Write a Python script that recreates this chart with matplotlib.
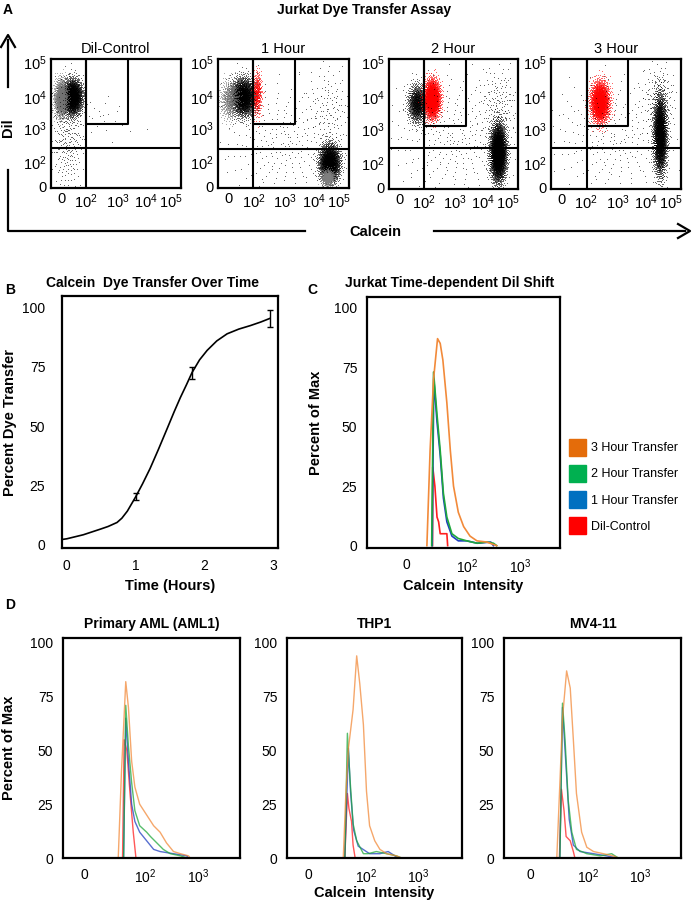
import numpy as np
import matplotlib
matplotlib.use("Agg")
import matplotlib.pyplot as plt
from matplotlib.lines import Line2D
from matplotlib.patches import Patch

plt.rcParams["font.family"] = ["Liberation Sans", "DejaVu Sans"]
plt.rcParams["mathtext.fontset"] = "custom"
plt.rcParams["mathtext.rm"] = "Liberation Sans"
plt.rcParams["mathtext.it"] = "Liberation Sans:italic"
plt.rcParams["mathtext.bf"] = "Liberation Sans:bold"

W, H = 695, 905

# ---------------- data ----------------
# A: flow dot plots, populations as (x, y, sx, sy, n, colour), axis units = decades on display scale
dot_titles = ["Dil-Control", "1 Hour", "2 Hour", "3 Hour"]
dot_pops = [
    [(0.65, 2.8, 0.15, 0.26, 2600, "k"), (0.30, 2.75, 0.10, 0.28, 1400, "0.45"),
     (0.50, 1.6, 0.25, 0.9, 300, "k"), (1.6, 2.2, 0.5, 0.5, 25, "k")],
    [(0.76, 2.8, 0.18, 0.28, 2600, "k"), (0.35, 2.7, 0.15, 0.3, 600, "0.45"),
     (1.19, 2.9, 0.07, 0.33, 450, "r"), (3.40, 0.75, 0.15, 0.28, 2600, "k"),
     (3.35, 0.30, 0.10, 0.12, 600, "0.5"), (3.4, 2.4, 0.35, 0.7, 130, "k"),
     (2.0, 1.4, 1.0, 1.0, 280, "k")],
    [(0.87, 2.6, 0.14, 0.28, 1200, "k"), (1.33, 2.75, 0.12, 0.28, 2600, "r"),
     (3.38, 1.10, 0.12, 0.42, 4000, "k"), (3.4, 2.6, 0.3, 0.6, 150, "k"),
     (2.0, 1.6, 1.1, 1.0, 350, "k")],
    [(1.50, 2.65, 0.14, 0.30, 2600, "r"), (3.35, 1.65, 0.10, 0.58, 3200, "k"),
     (3.3, 2.8, 0.25, 0.5, 150, "k"), (2.0, 1.6, 1.1, 1.0, 300, "k")],
]
gate_x = [1.08, 1.07, 1.09, 1.11]
gate_right = [2.37, 2.35, 2.39, 2.37]
gate_bottom = [1.98, 1.98, 1.94, 1.94]
quad_y = [1.24, 1.21, 1.26, 1.26]
dot_ticks = [0.32, 1.08, 2.05, 2.92, 3.68]
dot_yticks = [0.05, 0.8, 1.85, 2.82, 3.9]
dot_ticklabels = ["0", r"$10^2$", r"$10^3$", r"$10^4$", r"$10^5$"]

# B: dye transfer over time
time_h = [-0.07, 0.0, 0.24, 0.49, 0.6, 0.73, 0.8, 0.88, 1.0, 1.1, 1.21, 1.33, 1.46, 1.56,
          1.65, 1.74, 1.82, 1.93, 2.04, 2.18, 2.33, 2.5, 2.67, 2.82, 2.95]
transfer = [2.0, 2.3, 4.0, 6.4, 7.5, 9.2, 11, 14, 20, 25.5, 32, 40, 49, 56,
            62, 67.5, 72.6, 78, 82, 86, 89, 91, 92.5, 94, 95.5]
err_t = [1.0, 1.82, 2.95]
err_y = [20, 72.5, 95.5]
err_e = [1.5, 2.5, 3.5]

# C / D: histograms, x in display decades (10^2 -> 2, 10^3 -> 3)
series = ["3 Hour Transfer", "2 Hour Transfer", "1 Hour Transfer", "Dil-Control"]
line_colors = ["#F28A3A", "#1FA83C", "#1F3FC0", "#FF2020"]
legend_colors = ["#E46C0A", "#00B050", "#0070C0", "#FF0000"]

jurkat = {
    "3 Hour Transfer": ([1.25, 1.31, 1.375, 1.45, 1.5, 1.55, 1.625, 1.69, 1.75, 1.84, 1.94, 2.06, 2.19, 2.375, 2.56],
                        [0, 40, 70, 87, 85, 78, 60, 40, 25, 14, 8, 4, 2, 1.5, 0]),
    "2 Hour Transfer": ([1.34, 1.375, 1.44, 1.5, 1.56, 1.625, 1.72, 1.84, 2.0, 2.19, 2.375, 2.5, 2.56],
                        [0, 73, 55, 40, 22, 12, 5, 3, 2, 1, 1.5, 1, 0]),
    "1 Hour Transfer": ([1.35, 1.38, 1.44, 1.5, 1.56, 1.625, 1.72, 1.84, 2.0, 2.2, 2.45, 2.5],
                        [0, 70, 52, 38, 20, 10, 4, 2, 2, 1, 1.5, 0]),
    "Dil-Control": ([1.355, 1.36, 1.4, 1.44, 1.47, 1.5, 1.625, 1.64],
                    [0, 33, 25, 12, 10, 5, 5, 0]),
}
aml1 = {
    "3 Hour Transfer": ([1.5, 1.56, 1.64, 1.69, 1.75, 1.81, 1.9, 2.03, 2.16, 2.28, 2.4, 2.53, 2.66, 2.81, 2.84],
                        [0, 40, 82, 70, 45, 33, 25, 20, 15, 12, 7, 3, 2, 1, 0]),
    "2 Hour Transfer": ([1.6, 1.64, 1.69, 1.75, 1.81, 1.9, 2.03, 2.1, 2.22, 2.34, 2.47, 2.66, 2.78],
                        [0, 71, 52, 35, 22, 15, 12, 10, 7, 4, 2, 1, 0]),
    "1 Hour Transfer": ([1.6, 1.64, 1.69, 1.75, 1.81, 1.9, 2.03, 2.16, 2.28, 2.53, 2.78, 2.8],
                        [0, 65, 45, 25, 17, 12, 8, 4, 3, 2, 1, 0]),
    "Dil-Control": ([1.58, 1.61, 1.66, 1.72, 1.78, 1.83],
                    [0, 55, 50, 30, 12, 0]),
}
thp1 = {
    "3 Hour Transfer": ([1.55, 1.6, 1.65, 1.74, 1.81, 1.87, 1.94, 2.0, 2.06, 2.16, 2.26, 2.39, 2.58, 2.68],
                        [0, 30, 51, 69, 94, 81, 62, 31, 15, 8, 4, 2, 1, 0]),
    "2 Hour Transfer": ([1.58, 1.63, 1.68, 1.74, 1.81, 1.94, 2.03, 2.19, 2.39, 2.58, 2.68],
                        [0, 58, 37, 16, 8, 2, 2, 3, 2, 1, 0]),
    "1 Hour Transfer": ([1.58, 1.65, 1.69, 1.75, 1.84, 2.06, 2.26, 2.42, 2.55, 2.61],
                        [0, 51, 31, 13, 5.5, 2, 2, 3, 1, 0]),
    "Dil-Control": ([1.58, 1.63, 1.66, 1.71, 1.74, 1.78],
                    [0, 30, 23, 17, 6, 0]),
}
mv411 = {
    "3 Hour Transfer": ([1.39, 1.45, 1.5, 1.58, 1.65, 1.71, 1.77, 1.87, 1.97, 2.1, 2.29, 2.48, 2.58],
                        [0, 35, 65, 87, 79, 55, 30, 12, 5, 3, 2, 1, 0]),
    "2 Hour Transfer": ([1.45, 1.5, 1.55, 1.61, 1.68, 1.77, 1.97, 2.23, 2.45, 2.58],
                        [0, 72, 55, 27, 12, 4, 2, 1, 2, 0]),
    "1 Hour Transfer": ([1.45, 1.5, 1.57, 1.63, 1.71, 1.84, 2.1, 2.35, 2.55],
                        [0, 70, 42, 18, 6, 3, 2, 1, 0]),
    "Dil-Control": ([1.44, 1.48, 1.53, 1.57, 1.65, 1.71, 1.74],
                    [0, 32, 22, 10, 8, 3, 0]),
}
hist_ticks = [0.87, 2, 3]
hist_ticklabels = ["0", r"$10^2$", r"$10^3$"]
pct_ticks = [0, 25, 50, 75, 100]


# ---------------- helpers ----------------
def box(l, t, r, b):
    return fig.add_axes([l / W, 1 - b / H, (r - l) / W, (b - t) / H])


def fx(x):
    return x / W


def fy(y):
    return 1 - y / H


def quasi_gauss(n, start):
    # deterministic low-discrepancy (R2) points mapped to a normal cloud
    g = 1.32471795724474602596
    i = np.arange(start, start + n)
    u = (0.5 + i / g) % 1.0
    v = (0.5 + i / g ** 2) % 1.0
    r = np.sqrt(-2 * np.log(1 - 0.998 * u))
    return r * np.cos(2 * np.pi * v), r * np.sin(2 * np.pi * v)


def frame(ax, lw=1.6):
    for s in ax.spines.values():
        s.set_linewidth(lw)
        s.set_color("black")


fig = plt.figure(figsize=(W / 100, H / 100), dpi=100)

# ---------------- A ----------------
dot_boxes = [(51, 59, 181, 188), (218, 59, 349, 188), (389, 59, 518, 189), (551, 59, 681, 189)]
for k, (l, t, r, b) in enumerate(dot_boxes):
    ax = box(l, t, r, b)
    start = 1
    for (cx, cy, sx, sy, n, col) in dot_pops[k]:
        gx, gy = quasi_gauss(n, start + 97 * k)
        start += n
        ax.plot(cx + sx * gx, cy + sy * gy, linestyle="none", marker=",",
                color=col, alpha=0.6)
    ax.axvline(gate_x[k], color="k", lw=1.5)
    ax.axhline(quad_y[k], color="k", lw=1.5)
    ax.plot([gate_x[k], gate_x[k], gate_right[k], gate_right[k]],
            [4, gate_bottom[k], gate_bottom[k], 4], color="k", lw=1.5)
    ax.set_xlim(0, 4)
    ax.set_ylim(0, 4)
    ax.set_xticks(dot_ticks)
    ax.set_xticklabels(dot_ticklabels)
    ax.set_yticks(dot_yticks)
    ax.set_yticklabels(dot_ticklabels)
    ax.tick_params(length=0, labelsize=10.5, pad=3)
    ax.set_title(dot_titles[k], fontsize=10.5, pad=4)
    frame(ax)

fig.text(fx(3), fy(10), "A", fontsize=10, fontweight="bold", va="center")
fig.text(fx(364), fy(10), "Jurkat Dye Transfer Assay", fontsize=10, fontweight="bold",
         ha="center", va="center")
fig.text(fx(8), fy(128), "Dil", fontsize=10.5, fontweight="bold", rotation=90,
         ha="center", va="center")
fig.text(fx(375), fy(232), "Calcein", fontsize=10.5, fontweight="bold",
         ha="center", va="center")
fig.add_artist(Line2D([fx(8), fx(8), fx(305)], [fy(170), fy(231), fy(231)],
                      color="k", lw=1.6))
fig.add_artist(Line2D([fx(8), fx(8)], [fy(87), fy(40)], color="k", lw=1.6))
fig.add_artist(Line2D([fx(434), fx(685)], [fy(231), fy(231)], color="k", lw=1.6))
fig.add_artist(Line2D([fx(678), fx(690), fx(678)], [fy(224), fy(231), fy(238)],
                      color="k", lw=1.6))
fig.add_artist(Line2D([fx(1), fx(8), fx(15)], [fy(47), fy(35), fy(47)],
                      color="k", lw=1.6))

# ---------------- B ----------------
axb = box(62, 296, 278, 548)
axb.plot(time_h, transfer, color="k", lw=1.2)
axb.errorbar(err_t, err_y, yerr=err_e, fmt="none", ecolor="k", elinewidth=1.0,
             capsize=2, capthick=1.0)
axb.set_xlim(-0.07, 3.07)
axb.set_ylim(-1.6, 105)
axb.set_xticks([0, 1, 2, 3])
axb.set_yticks(pct_ticks)
axb.tick_params(length=0, labelsize=10)
axb.tick_params(axis="y", pad=12)
axb.tick_params(axis="x", pad=8)
axb.set_xlabel("Time (Hours)", fontsize=10.5, fontweight="bold", labelpad=4)
axb.set_ylabel("Percent Dye Transfer", fontsize=10.5, fontweight="bold", labelpad=4)
frame(axb)
fig.text(fx(5), fy(290), "B", fontsize=10, fontweight="bold", va="center")
fig.text(fx(153), fy(283), "Calcein  Dye Transfer Over Time", fontsize=10,
         fontweight="bold", ha="center", va="center")


# ---------------- C / D ----------------
def hist_panel(ax, data, xlim, lw, alpha):
    for name, col in zip(series[::-1], line_colors[::-1]):
        xs, ys = data[name]
        ax.plot(xs, ys, color=col, lw=lw, alpha=alpha)
    ax.set_xlim(*xlim)
    ax.set_xticks(hist_ticks)
    ax.set_xticklabels(hist_ticklabels)
    ax.set_yticks(pct_ticks)
    ax.tick_params(length=0, labelsize=10, pad=7)
    frame(ax)


axc = box(367, 297, 560, 548)
hist_panel(axc, jurkat, (0.125, 3.75), 1.2, 1.0)
axc.set_ylim(-1, 104.5)
axc.set_xlabel("Calcein  Intensity", fontsize=10.5, fontweight="bold", labelpad=2)
axc.set_ylabel("Percent of Max", fontsize=10.5, fontweight="bold", labelpad=8)
handles = [Patch(facecolor=c, edgecolor=c) for c in legend_colors]
axc.legend(handles, series, loc="center left", bbox_to_anchor=(1.02, 0.245),
           frameon=False, fontsize=9, handlelength=1.4, handleheight=1.7,
           labelspacing=0.75, handletextpad=0.4, borderaxespad=0)
fig.text(fx(307), fy(290), "C", fontsize=10, fontweight="bold", va="center")
fig.text(fx(450), fy(283), "Jurkat Time-dependent Dil Shift", fontsize=10,
         fontweight="bold", ha="center", va="center")

d_boxes = [(63, 638, 240, 858), (287, 638, 462, 858), (504, 638, 681, 858)]
d_data = [aml1, thp1, mv411]
d_titles = ["Primary AML (AML1)", "THP1", "MV4-11"]
d_xlims = [(0.47, 3.77), (0.46, 3.85), (0.37, 3.79)]
for k, (l, t, r, b) in enumerate(d_boxes):
    ax = box(l, t, r, b)
    hist_panel(ax, d_data[k], d_xlims[k], 1.0, 0.75)
    ax.set_ylim(0, 102.3)
    ax.set_title(d_titles[k], fontsize=10, fontweight="bold", pad=7)
    if k == 0:
        ax.set_ylabel("Percent of Max", fontsize=10.5, fontweight="bold", labelpad=10)
    if k == 1:
        ax.set_xlabel("Calcein  Intensity", fontsize=10.5, fontweight="bold", labelpad=0)
fig.text(fx(5), fy(605), "D", fontsize=10, fontweight="bold", va="center")

fig.savefig("out.png", dpi=100)
